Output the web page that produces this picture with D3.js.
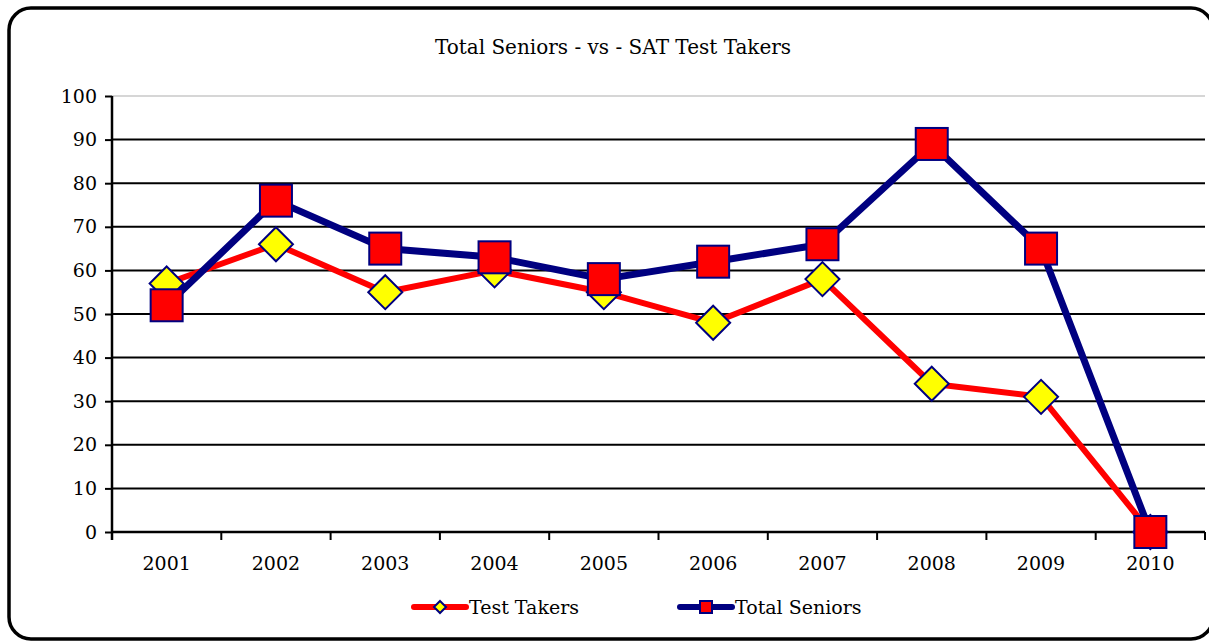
<!DOCTYPE html>
<html>
<head>
<meta charset="utf-8">
<script src="https://cdn.jsdelivr.net/npm/d3@7"></script>
<style>
  body { margin: 0; background: #fff; }
  text { font-family: "DejaVu Serif", serif; fill: #000; }
</style>
</head>
<body>
<div id="chart"></div>
<script>
const years = ['2001', '2002', '2003', '2004', '2005', '2006', '2007', '2008', '2009', '2010'];
const testTakers = [57, 66, 55, 60, 55, 48, 58, 34, 31, 0];
const totalSeniors = [52, 76, 65, 63, 58, 62, 66, 89, 65, 0];
const yTicks = [0, 10, 20, 30, 40, 50, 60, 70, 80, 90, 100];

const width = 1209, height = 641;
const margin = { left: 112, right: 4, top: 96, bottom: 109 };

const svg = d3.select('#chart').append('svg')
  .attr('width', width).attr('height', height);

// rounded frame, right side just past the edge
svg.append('rect')
  .attr('x', 9).attr('y', 8)
  .attr('width', 1204).attr('height', 631)
  .attr('rx', 22).attr('ry', 22)
  .attr('fill', '#fff').attr('stroke', '#000').attr('stroke-width', 3.5);

svg.append('text')
  .attr('x', 613).attr('y', 54)
  .attr('text-anchor', 'middle')
  .style('font-size', '20px')
  .text('Total Seniors - vs - SAT Test Takers');

const x = d3.scaleBand().domain(years)
  .range([margin.left, width - margin.right]);
const y = d3.scaleLinear().domain([0, 100])
  .range([height - margin.bottom, margin.top]);
const cx = d => x(d) + x.bandwidth() / 2;

// grid
svg.append('g').selectAll('line')
  .data(yTicks.filter(t => t > 0))
  .join('line')
  .attr('x1', margin.left).attr('x2', width - margin.right)
  .attr('y1', d => y(d)).attr('y2', d => y(d))
  .attr('stroke', d => d === 100 ? '#c8c8c8' : '#000')
  .attr('stroke-width', d => d === 100 ? 1.5 : 2);

// y axis
const yAxis = svg.append('g')
  .attr('transform', `translate(${margin.left},0)`)
  .call(d3.axisLeft(y).tickValues(yTicks).tickSize(7).tickPadding(8));
yAxis.select('.domain').attr('stroke-width', 2.5).attr('d', `M0,${y(100)}V${y(0) + 8}`);
yAxis.selectAll('.tick line').attr('stroke-width', 2);
yAxis.selectAll('.tick text').style('font-size', '19px').style('font-family', '"DejaVu Serif", serif');

// x axis with ticks between categories
const bounds = years.map(d => x(d)).concat([width - margin.right]).slice(1);
const xg = svg.append('g');
xg.append('line')
  .attr('x1', margin.left).attr('x2', width - margin.right)
  .attr('y1', y(0)).attr('y2', y(0))
  .attr('stroke', '#000').attr('stroke-width', 2.5);
xg.selectAll('line.tk')
  .data(bounds)
  .join('line').attr('class', 'tk')
  .attr('x1', d => d).attr('x2', d => d)
  .attr('y1', y(0)).attr('y2', y(0) + 8)
  .attr('stroke', '#000').attr('stroke-width', 2);
xg.selectAll('text')
  .data(years)
  .join('text')
  .attr('x', d => cx(d)).attr('y', y(0) + 38)
  .attr('text-anchor', 'middle')
  .style('font-size', '19px')
  .text(d => d);

const line = d3.line().x((d, i) => cx(years[i])).y(d => y(d));
const diamondPath = s => `M0,${-s}L${s},0L0,${s}L${-s},0Z`;

// Test Takers
svg.append('path').datum(testTakers)
  .attr('d', line).attr('fill', 'none')
  .attr('stroke', '#ff0000').attr('stroke-width', 6).attr('stroke-linejoin', 'round');
svg.selectAll('path.tt')
  .data(testTakers)
  .join('path').attr('class', 'tt')
  .attr('d', diamondPath(17))
  .attr('transform', (d, i) => `translate(${cx(years[i])},${y(d)})`)
  .attr('fill', '#ffff00').attr('stroke', '#000080').attr('stroke-width', 2);

// Total Seniors
svg.append('path').datum(totalSeniors)
  .attr('d', line).attr('fill', 'none')
  .attr('stroke', '#000080').attr('stroke-width', 7).attr('stroke-linejoin', 'round');
svg.selectAll('rect.ts')
  .data(totalSeniors)
  .join('rect').attr('class', 'ts')
  .attr('x', (d, i) => cx(years[i]) - 16).attr('y', d => y(d) - 16)
  .attr('width', 32).attr('height', 32)
  .attr('fill', '#ff0000').attr('stroke', '#000080').attr('stroke-width', 2);

// legend
const legend = [
  { name: 'Test Takers', color: '#ff0000', x: 414, marker: 'diamond' },
  { name: 'Total Seniors', color: '#000080', x: 680, marker: 'square' }
];
const lg = svg.append('g').attr('transform', 'translate(0,607)');
legend.forEach(l => {
  lg.append('line')
    .attr('x1', l.x).attr('x2', l.x + 52)
    .attr('y1', 0).attr('y2', 0)
    .attr('stroke', l.color).attr('stroke-width', 6).attr('stroke-linecap', 'round');
  if (l.marker === 'diamond') {
    lg.append('path').attr('d', diamondPath(6))
      .attr('transform', `translate(${l.x + 26},0)`)
      .attr('fill', '#ffff00').attr('stroke', '#000080').attr('stroke-width', 2);
  } else {
    lg.append('rect').attr('x', l.x + 20).attr('y', -6)
      .attr('width', 12).attr('height', 12)
      .attr('fill', '#ff0000').attr('stroke', '#000080').attr('stroke-width', 2);
  }
  lg.append('text')
    .attr('x', l.x + 55).attr('y', 7)
    .style('font-size', '19px')
    .text(l.name);
});
</script>
</body>
</html>
